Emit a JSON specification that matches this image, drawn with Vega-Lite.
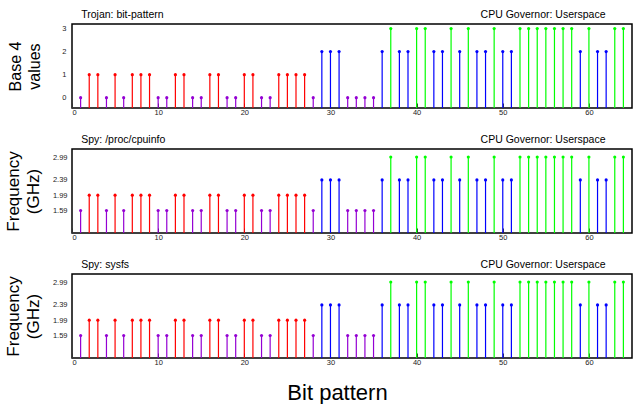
{
  "$schema": "https://vega.github.io/schema/vega-lite/v6.json",
  "background": "white",
  "padding": {"left": 3, "top": 8, "right": 0, "bottom": 0},
  "config": {
    "font": "Liberation Sans",
    "view": {"stroke": "black", "strokeWidth": 1.5},
    "axis": {"grid": false, "domain": false, "labelFontSize": 7.5, "labelColor": "#222", "titleFontWeight": "normal", "titleColor": "black", "labelFont": "Liberation Sans", "titleFont": "Liberation Sans"}
  },
  "datasets": {
    "bits": [
      {"bit":1,"base4":0,"ghz":1.59},{"bit":2,"base4":1,"ghz":1.99},{"bit":3,"base4":1,"ghz":1.99},{"bit":4,"base4":0,"ghz":1.59},
      {"bit":5,"base4":1,"ghz":1.99},{"bit":6,"base4":0,"ghz":1.59},{"bit":7,"base4":1,"ghz":1.99},{"bit":8,"base4":1,"ghz":1.99},
      {"bit":9,"base4":1,"ghz":1.99},{"bit":10,"base4":0,"ghz":1.59},{"bit":11,"base4":0,"ghz":1.59},{"bit":12,"base4":1,"ghz":1.99},
      {"bit":13,"base4":1,"ghz":1.99},{"bit":14,"base4":0,"ghz":1.59},{"bit":15,"base4":0,"ghz":1.59},{"bit":16,"base4":1,"ghz":1.99},
      {"bit":17,"base4":1,"ghz":1.99},{"bit":18,"base4":0,"ghz":1.59},{"bit":19,"base4":0,"ghz":1.59},{"bit":20,"base4":1,"ghz":1.99},
      {"bit":21,"base4":1,"ghz":1.99},{"bit":22,"base4":0,"ghz":1.59},{"bit":23,"base4":0,"ghz":1.59},{"bit":24,"base4":1,"ghz":1.99},
      {"bit":25,"base4":1,"ghz":1.99},{"bit":26,"base4":1,"ghz":1.99},{"bit":27,"base4":1,"ghz":1.99},{"bit":28,"base4":0,"ghz":1.59},
      {"bit":29,"base4":2,"ghz":2.39},{"bit":30,"base4":2,"ghz":2.39},{"bit":31,"base4":2,"ghz":2.39},{"bit":32,"base4":0,"ghz":1.59},
      {"bit":33,"base4":0,"ghz":1.59},{"bit":34,"base4":0,"ghz":1.59},{"bit":35,"base4":0,"ghz":1.59},{"bit":36,"base4":2,"ghz":2.39},
      {"bit":37,"base4":3,"ghz":2.99},{"bit":38,"base4":2,"ghz":2.39},{"bit":39,"base4":2,"ghz":2.39},{"bit":40,"base4":3,"ghz":2.99},
      {"bit":41,"base4":3,"ghz":2.99},{"bit":42,"base4":2,"ghz":2.39},{"bit":43,"base4":2,"ghz":2.39},{"bit":44,"base4":3,"ghz":2.99},
      {"bit":45,"base4":2,"ghz":2.39},{"bit":46,"base4":3,"ghz":2.99},{"bit":47,"base4":2,"ghz":2.39},{"bit":48,"base4":2,"ghz":2.39},
      {"bit":49,"base4":3,"ghz":2.99},{"bit":50,"base4":2,"ghz":2.39},{"bit":51,"base4":2,"ghz":2.39},{"bit":52,"base4":3,"ghz":2.99},
      {"bit":53,"base4":3,"ghz":2.99},{"bit":54,"base4":3,"ghz":2.99},{"bit":55,"base4":3,"ghz":2.99},{"bit":56,"base4":3,"ghz":2.99},
      {"bit":57,"base4":3,"ghz":2.99},{"bit":58,"base4":3,"ghz":2.99},{"bit":59,"base4":2,"ghz":2.39},{"bit":60,"base4":3,"ghz":2.99},
      {"bit":61,"base4":2,"ghz":2.39},{"bit":62,"base4":2,"ghz":2.39},{"bit":63,"base4":3,"ghz":2.99},{"bit":64,"base4":3,"ghz":2.99}
    ]
  },
  "bounds": "flush",
  "spacing": 41,
  "vconcat": [
    {
      "width": 560, "height": 84,
      "data": {"name": "bits"},
      "resolve": {"scale": {"x": "independent", "y": "independent"}},
      "layer": [
        {
          "mark": {"type": "rule", "strokeWidth": 1.2},
          "encoding": {
            "x": {"field": "bit", "type": "quantitative", "scale": {"domain": [0, 65], "nice": false, "zero": false},
                  "axis": {"values": [0,10,20,30,40,50,60], "title": null, "tickSize": -5, "tickColor": "#333", "labelPadding": 5}},
            "y": {"field": "base4", "type": "quantitative", "scale": {"domain": [-0.45, 3.2], "nice": false, "zero": false},
                  "axis": {"values": [0,1,2,3], "ticks": false, "labelPadding": 6, "title": ["Base 4", "values"], "titleFontSize": 16, "titleLineHeight": 19, "titleAngle": -90, "titleX": -52, "titleY": 42, "titleAlign": "center", "titleBaseline": "alphabetic"}},
            "y2": {"datum": -0.45},
            "color": {"field": "base4", "type": "nominal", "scale": {"domain": [0,1,2,3], "range": ["#9400d3", "#ff0000", "#0000ff", "#00ff00"]}, "legend": null}
          }
        },
        {
          "mark": {"type": "point", "filled": true, "size": 10, "opacity": 1},
          "encoding": {
            "x": {"field": "bit", "type": "quantitative", "scale": {"domain": [0, 65], "nice": false, "zero": false},
                  "axis": {"orient": "top", "labels": false, "ticks": false, "title": "CPU Governor: Userspace", "titleFontSize": 10.5, "titleX": 533, "titleY": -6.5, "titleAlign": "right", "titleBaseline": "alphabetic", "titleAngle": 0}},
            "y": {"field": "base4", "type": "quantitative", "scale": {"domain": [-0.45, 3.2], "nice": false, "zero": false},
                  "axis": {"orient": "right", "labels": false, "ticks": false, "title": "Trojan: bit-pattern", "titleFontSize": 10.5, "titleX": -551.3, "titleY": -6.5, "titleAlign": "left", "titleBaseline": "alphabetic", "titleAngle": 0}},
            "color": {"field": "base4", "type": "nominal", "scale": {"domain": [0,1,2,3], "range": ["#9400d3", "#ff0000", "#0000ff", "#00ff00"]}, "legend": null}
          }
        }
      ]
    },
    {
      "width": 560, "height": 84,
      "data": {"name": "bits"},
      "resolve": {"scale": {"x": "independent", "y": "independent"}},
      "layer": [
        {
          "mark": {"type": "rule", "strokeWidth": 1.2},
          "encoding": {
            "x": {"field": "bit", "type": "quantitative", "scale": {"domain": [0, 65], "nice": false, "zero": false},
                  "axis": {"values": [0,10,20,30,40,50,60], "title": null, "tickSize": -5, "tickColor": "#333", "labelPadding": 5}},
            "y": {"field": "ghz", "type": "quantitative", "scale": {"domain": [1.0, 3.2], "nice": false, "zero": false},
                  "axis": {"values": [1.59,1.99,2.39,2.99], "format": ".2f", "ticks": false, "labelPadding": 5, "title": ["Frequency", "(GHz)"], "titleFontSize": 17, "titleLineHeight": 20, "titleAngle": -90, "titleX": -54, "titleY": 42, "titleAlign": "center", "titleBaseline": "alphabetic"}},
            "y2": {"datum": 1.0},
            "color": {"field": "base4", "type": "nominal", "scale": {"domain": [0,1,2,3], "range": ["#9400d3", "#ff0000", "#0000ff", "#00ff00"]}, "legend": null}
          }
        },
        {
          "mark": {"type": "point", "filled": true, "size": 10, "opacity": 1},
          "encoding": {
            "x": {"field": "bit", "type": "quantitative", "scale": {"domain": [0, 65], "nice": false, "zero": false},
                  "axis": {"orient": "top", "labels": false, "ticks": false, "title": "CPU Governor: Userspace", "titleFontSize": 10.5, "titleX": 533, "titleY": -7, "titleAlign": "right", "titleBaseline": "alphabetic", "titleAngle": 0}},
            "y": {"field": "ghz", "type": "quantitative", "scale": {"domain": [1.0, 3.2], "nice": false, "zero": false},
                  "axis": {"orient": "right", "labels": false, "ticks": false, "title": "Spy: /proc/cpuinfo", "titleFontSize": 10.5, "titleX": -551.3, "titleY": -7, "titleAlign": "left", "titleBaseline": "alphabetic", "titleAngle": 0}},
            "color": {"field": "base4", "type": "nominal", "scale": {"domain": [0,1,2,3], "range": ["#9400d3", "#ff0000", "#0000ff", "#00ff00"]}, "legend": null}
          }
        }
      ]
    },
    {
      "width": 560, "height": 84,
      "data": {"name": "bits"},
      "resolve": {"scale": {"x": "independent", "y": "independent"}},
      "layer": [
        {
          "mark": {"type": "rule", "strokeWidth": 1.2},
          "encoding": {
            "x": {"field": "bit", "type": "quantitative", "scale": {"domain": [0, 65], "nice": false, "zero": false},
                  "axis": {"values": [0,10,20,30,40,50,60], "title": "Bit pattern", "titleFontSize": 22, "titleX": 265, "titleY": 41, "titleAlign": "center", "titleBaseline": "alphabetic", "tickSize": -5, "tickColor": "#333", "labelPadding": 5}},
            "y": {"field": "ghz", "type": "quantitative", "scale": {"domain": [1.0, 3.2], "nice": false, "zero": false},
                  "axis": {"values": [1.59,1.99,2.39,2.99], "format": ".2f", "ticks": false, "labelPadding": 5, "title": ["Frequency", "(GHz)"], "titleFontSize": 17, "titleLineHeight": 20, "titleAngle": -90, "titleX": -54, "titleY": 42, "titleAlign": "center", "titleBaseline": "alphabetic"}},
            "y2": {"datum": 1.0},
            "color": {"field": "base4", "type": "nominal", "scale": {"domain": [0,1,2,3], "range": ["#9400d3", "#ff0000", "#0000ff", "#00ff00"]}, "legend": null}
          }
        },
        {
          "mark": {"type": "point", "filled": true, "size": 10, "opacity": 1},
          "encoding": {
            "x": {"field": "bit", "type": "quantitative", "scale": {"domain": [0, 65], "nice": false, "zero": false},
                  "axis": {"orient": "top", "labels": false, "ticks": false, "title": "CPU Governor: Userspace", "titleFontSize": 10.5, "titleX": 533, "titleY": -7, "titleAlign": "right", "titleBaseline": "alphabetic", "titleAngle": 0}},
            "y": {"field": "ghz", "type": "quantitative", "scale": {"domain": [1.0, 3.2], "nice": false, "zero": false},
                  "axis": {"orient": "right", "labels": false, "ticks": false, "title": "Spy: sysfs", "titleFontSize": 10.5, "titleX": -551.3, "titleY": -7, "titleAlign": "left", "titleBaseline": "alphabetic", "titleAngle": 0}},
            "color": {"field": "base4", "type": "nominal", "scale": {"domain": [0,1,2,3], "range": ["#9400d3", "#ff0000", "#0000ff", "#00ff00"]}, "legend": null}
          }
        }
      ]
    }
  ]
}
